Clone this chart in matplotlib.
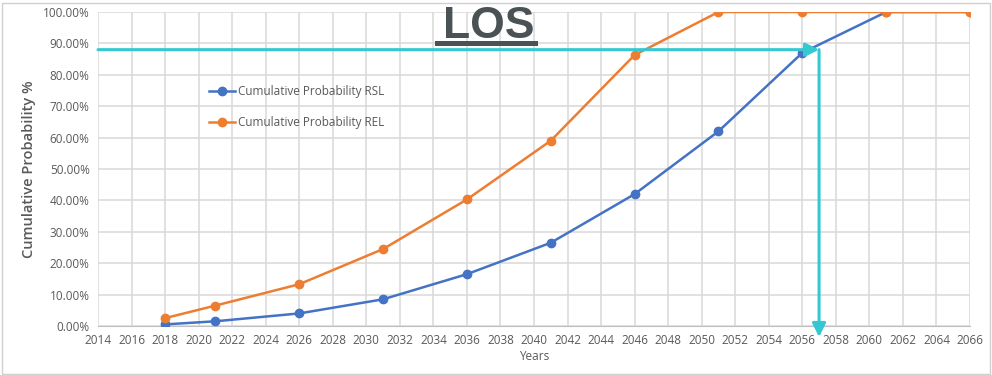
import matplotlib.pyplot as plt
from matplotlib.patches import Rectangle
from matplotlib.ticker import FuncFormatter, MultipleLocator

years = [2018, 2021, 2026, 2031, 2036, 2041, 2046, 2051, 2056, 2061, 2066]
rsl = [0.5, 1.5, 4.0, 8.5, 16.5, 26.5, 42.0, 62.0, 87.0, 100.0, 100.0]
rel = [2.5, 6.5, 13.3, 24.5, 40.3, 59.0, 86.3, 100.0, 100.0, 100.0, 100.0]
labels = ["Cumulative Probability RSL", "Cumulative Probability REL"]

# reading of the RSL curve at the target probability
target_prob = 88.0
target_year = 2057

BLUE = "#4472C4"
ORANGE = "#ED7D31"
CYAN = "#33C8D2"
GRID = "#D9D9D9"
TEXT = "#595959"

plt.rcParams["font.family"] = ["Open Sans", "DejaVu Sans"]

fig = plt.figure(figsize=(9.92, 3.75), dpi=100)
ax = fig.add_axes([0.0988, 0.1307, 0.8790, 0.8373])

for vals, color, label in zip([rsl, rel], [BLUE, ORANGE], labels):
    ax.plot(years, vals, color=color, lw=1.8, marker="o", ms=6,
            label=label, zorder=3)

ax.set_xlim(2014, 2066)
ax.set_ylim(0, 100)
ax.xaxis.set_major_locator(MultipleLocator(2))
ax.yaxis.set_major_locator(MultipleLocator(10))
ax.yaxis.set_major_formatter(FuncFormatter(lambda v, _: f"{v:.2f}%"))
ax.grid(True, color=GRID, lw=1.1)
ax.set_axisbelow(True)
for side in ["top", "right", "left"]:
    ax.spines[side].set_visible(False)
ax.spines["bottom"].set_color("#BFBFBF")
ax.tick_params(length=0, labelsize=8.5, labelcolor=TEXT, pad=6)

ax.set_xlabel("Years", fontsize=8.5, color=TEXT, labelpad=2)
ax.set_ylabel("Cumulative Probability %", fontsize=10.5, color=TEXT,
              fontweight="semibold", labelpad=5)

leg = ax.legend(loc="upper left", bbox_to_anchor=(0.115, 0.80), frameon=False,
                fontsize=8.5, labelcolor=TEXT, handlelength=2.2,
                labelspacing=1.5, handletextpad=0.3)

# cyan reading guide with arrowheads
ax.annotate("", xy=(target_year, target_prob), xytext=(2014, target_prob),
            arrowprops=dict(arrowstyle="-|>", color=CYAN, lw=2.2,
                            mutation_scale=20, shrinkA=0, shrinkB=0),
            annotation_clip=False, zorder=4)
ax.annotate("", xy=(target_year, -3.5), xytext=(target_year, target_prob),
            arrowprops=dict(arrowstyle="-|>", color=CYAN, lw=2.2,
                            mutation_scale=20, shrinkA=0, shrinkB=0),
            annotation_clip=False, zorder=4)

fig.text(0.4925, 0.9, "LOS", ha="center", va="baseline", fontsize=32,
         fontweight="bold", color="#4A5256", family="Liberation Sans")
fig.add_artist(plt.Line2D([0.4405, 0.5395], [0.885, 0.885],
                          color="#4A5256", lw=3.6))

fig.add_artist(Rectangle((0.002, 0.003), 0.996, 0.99, transform=fig.transFigure,
                         fill=False, edgecolor="#D0D0D0", lw=1.0))

fig.savefig("out.png", dpi=100)
